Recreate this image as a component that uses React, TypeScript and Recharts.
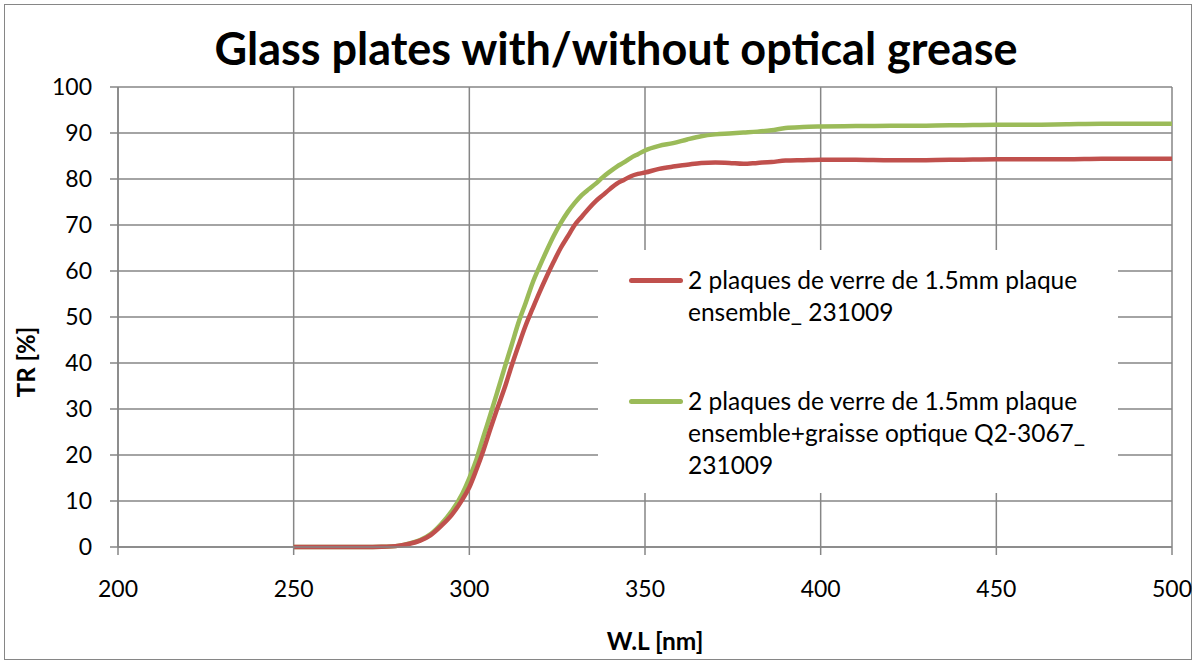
import React from 'react';
import { LineChart, Line, XAxis, YAxis, CartesianGrid } from 'recharts';

const wavelengths = [250, 260, 270, 275, 280, 283, 286, 289, 292, 295, 298, 300, 302, 304, 306, 308, 310, 312, 314, 316, 318, 320, 322, 324, 326, 328, 330, 332, 334, 336, 338, 340, 342, 344, 346, 348, 350, 354, 358, 362, 366, 370, 374, 378, 382, 386, 390, 395, 400, 410, 420, 430, 440, 450, 460, 470, 480, 490, 500];

const withoutGrease = [0, 0, 0, 0.05, 0.3, 0.7, 1.4, 2.6, 4.6, 7.0, 10.3, 13.0, 16.8, 21.0, 25.7, 30.2, 34.5, 39.3, 43.8, 48.1, 51.8, 55.4, 58.8, 62.0, 65.0, 67.5, 70.0, 71.8, 73.6, 75.2, 76.5, 77.8, 79.0, 79.8, 80.6, 81.1, 81.4, 82.2, 82.7, 83.1, 83.5, 83.6, 83.5, 83.3, 83.5, 83.7, 84.0, 84.1, 84.2, 84.2, 84.1, 84.1, 84.2, 84.3, 84.3, 84.3, 84.4, 84.4, 84.4];

const withGrease = [0, 0, 0, 0.05, 0.3, 0.8, 1.5, 2.8, 5.0, 7.8, 11.6, 15.0, 19.0, 24.0, 28.8, 33.8, 38.9, 43.8, 48.8, 53.0, 57.4, 61.0, 64.4, 67.6, 70.4, 72.8, 74.8, 76.5, 77.8, 79.0, 80.4, 81.6, 82.7, 83.6, 84.6, 85.4, 86.2, 87.2, 87.8, 88.6, 89.3, 89.7, 89.9, 90.1, 90.3, 90.6, 91.1, 91.3, 91.4, 91.5, 91.6, 91.6, 91.7, 91.8, 91.8, 91.9, 92.0, 92.0, 92.0];

const xTicks = [200, 250, 300, 350, 400, 450, 500];
const yTicks = [0, 10, 20, 30, 40, 50, 60, 70, 80, 90, 100];

const titleText = 'Glass plates with/without optical grease';
const xTitle = 'W.L [nm]';
const yTitle = 'TR [%]';
const series1Lines = ['2 plaques de verre de 1.5mm plaque', 'ensemble_ 231009'];
const series2Lines = ['2 plaques de verre de 1.5mm plaque', 'ensemble+graisse optique Q2-3067_', '231009'];

const RED = '#C0504D';
const GREEN = '#9BBB59';
const GRID = '#868686';
const FONT = 'Lato, "Open Sans", sans-serif';

const data = wavelengths.map((wl, i) => ({ wl, red: withoutGrease[i], green: withGrease[i] }));

const XTick = (props: any) => {
  const { x, y, payload } = props;
  return (
    <text x={x} y={y + 39.5} textAnchor="middle" fontFamily={FONT} fontSize={23} fill="#000">
      {payload.value}
    </text>
  );
};

const YTick = (props: any) => {
  const { x, y, payload } = props;
  return (
    <text x={x - 16} y={y + 8.3} textAnchor="end" fontFamily={FONT} fontSize={23} fill="#000">
      {payload.value}
    </text>
  );
};

const LegendBox = () => {
  const item = (color: string, lines: string[], top: number) => (
    <div style={{ position: 'absolute', left: 0, top, width: '100%' }}>
      <div style={{ position: 'absolute', left: 31, top: 13.5, width: 54, height: 5, background: color, borderRadius: 2.5 }} />
      <div style={{ position: 'absolute', left: 90, top: 0, fontFamily: FONT, fontSize: 24.5, lineHeight: '32px', whiteSpace: 'nowrap', color: '#000' }}>
        {lines.map((l, i) => (
          <div key={i}>{l}</div>
        ))}
      </div>
    </div>
  );
  return (
    <div style={{ position: 'absolute', left: 598, top: 250, width: 520, height: 243, background: '#fff' }}>
      {item(RED, series1Lines, 14)}
      {item(GREEN, series2Lines, 135)}
    </div>
  );
};

export default function App() {
  return (
    <div style={{ position: 'absolute', left: 0, top: 0, width: 1198, height: 664, background: '#fff' }}>
      <div style={{ position: 'absolute', left: 4, top: 4, width: 1186, height: 654, border: `1.5px solid ${GRID}` }} />
      <LineChart width={1198} height={664} data={data} margin={{ top: 87, right: 26, left: 0, bottom: 0 }}>
        <CartesianGrid stroke={GRID} strokeWidth={1.5} />
        <XAxis
          dataKey="wl"
          type="number"
          domain={[200, 500]}
          ticks={xTicks}
          height={117}
          tickSize={8}
          stroke={GRID}
          strokeWidth={1.5}
          tick={<XTick />}
          interval={0}
          label={{
            content: () => (
              <text x={655} y={650} textAnchor="middle" fontFamily={FONT} fontWeight="bold" fontSize={24.5} fill="#000">
                {xTitle}
              </text>
            ),
          }}
        />
        <YAxis
          type="number"
          domain={[0, 100]}
          ticks={yTicks}
          width={118}
          tickSize={8}
          stroke={GRID}
          strokeWidth={1.5}
          tick={<YTick />}
          interval={0}
          label={{
            content: () => (
              <text transform="translate(35,362) rotate(-90)" textAnchor="middle" fontFamily={FONT} fontWeight="bold" fontSize={24} fill="#000">
                {yTitle}
              </text>
            ),
          }}
        />
        <Line type="monotone" dataKey="green" stroke={GREEN} strokeWidth={4.5} dot={false} isAnimationActive={false} />
        <Line type="monotone" dataKey="red" stroke={RED} strokeWidth={4.5} dot={false} isAnimationActive={false} />
      </LineChart>
      <LegendBox />
      <div style={{ position: 'absolute', left: 0, top: 21, width: 1232, textAlign: 'center', fontFamily: FONT, fontWeight: 'bold', fontSize: 45, lineHeight: '54px', color: '#000', whiteSpace: 'nowrap' }}>
        {titleText}
      </div>
    </div>
  );
}
